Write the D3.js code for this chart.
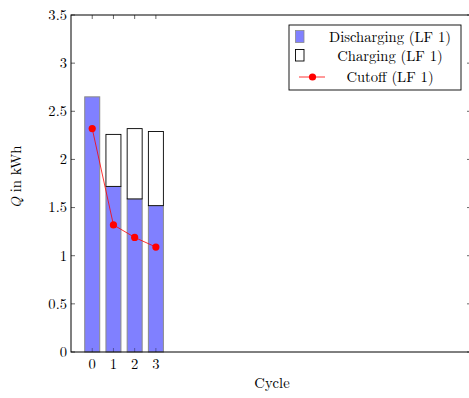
<!DOCTYPE html>
<html>
<head>
<meta charset="utf-8">
<script src="https://cdn.jsdelivr.net/npm/d3@7/dist/d3.min.js"></script>
<style>
  html, body { margin: 0; padding: 0; background: #fff; }
  svg { display: block; }
</style>
</head>
<body>
<svg id="chart" width="469" height="398" font-family="Latin Modern Roman, Liberation Serif, serif"></svg>
<script>
// Energy per cycle
const cycles = [0, 1, 2, 3];
const discharging = [2.65, 1.72, 1.59, 1.52];
const charging = [0.0, 0.54, 0.73, 0.77];
const cutoff = [2.32, 1.32, 1.19, 1.09];
const yTicks = [0, 0.5, 1, 1.5, 2, 2.5, 3, 3.5];
const legendLabels = ["Discharging (LF 1)", "Charging (LF 1)", "Cutoff (LF 1)"];

const svg = d3.select("#chart");
const plotL = 71, plotR = 471, plotT = 15, plotB = 352;
const fs = 14.6;

const x = d3.scaleLinear().domain([-1, 17.85]).range([plotL, plotR]);
const y = d3.scaleLinear().domain([0, 3.5]).range([plotB, plotT]);
const barW = 15;
const tickLen = 4;

// y ticks (left and right, inward)
svg.append("g").selectAll("line").data(yTicks).join("line")
  .attr("x1", plotL).attr("x2", plotL + tickLen)
  .attr("y1", d => y(d)).attr("y2", d => y(d))
  .attr("stroke", "#000").attr("stroke-width", 0.6);
svg.append("g").selectAll("line").data(yTicks).join("line")
  .attr("x1", plotR - tickLen).attr("x2", plotR)
  .attr("y1", d => y(d)).attr("y2", d => y(d))
  .attr("stroke", "#000").attr("stroke-width", 0.6);
// x ticks on top
svg.append("g").selectAll("line").data(cycles).join("line")
  .attr("x1", d => x(d)).attr("x2", d => x(d))
  .attr("y1", plotT).attr("y2", plotT + tickLen)
  .attr("stroke", "#000").attr("stroke-width", 0.6);

// stacked bars
const bars = svg.append("g");
bars.append("g").selectAll("rect").data(cycles).join("rect")
  .attr("x", d => x(d) - barW / 2).attr("width", barW)
  .attr("y", (d, i) => y(discharging[i]))
  .attr("height", (d, i) => y(0) - y(discharging[i]))
  .attr("fill", "#8080ff").attr("stroke", "#8a8a8a").attr("stroke-width", 1);
bars.append("g").selectAll("rect").data(cycles).join("rect")
  .attr("x", d => x(d) - barW / 2).attr("width", barW)
  .attr("y", (d, i) => y(discharging[i] + charging[i]))
  .attr("height", (d, i) => y(discharging[i]) - y(discharging[i] + charging[i]))
  .attr("fill", "#fff").attr("stroke", "#000").attr("stroke-width", 0.9);

// x ticks at bottom, drawn over bars
svg.append("g").selectAll("line").data(cycles).join("line")
  .attr("x1", d => x(d)).attr("x2", d => x(d))
  .attr("y1", plotB).attr("y2", plotB - tickLen)
  .attr("stroke", "#000").attr("stroke-opacity", 0.45).attr("stroke-width", 0.8);

// cutoff line
const line = d3.line().x((d, i) => x(cycles[i])).y(d => y(d));
svg.append("path").datum(cutoff).attr("d", line)
  .attr("fill", "none").attr("stroke", "#ff0000").attr("stroke-width", 0.8);
svg.append("g").selectAll("circle").data(cutoff).join("circle")
  .attr("cx", (d, i) => x(cycles[i])).attr("cy", d => y(d)).attr("r", 3.6)
  .attr("fill", "#ff0000");

// axis frame
svg.append("rect").attr("x", plotL).attr("y", plotT)
  .attr("width", plotR - plotL).attr("height", plotB - plotT)
  .attr("fill", "none").attr("stroke", "#000").attr("stroke-width", 1);

// tick labels
svg.append("g").selectAll("text").data(yTicks).join("text")
  .attr("x", plotL - 4).attr("y", d => y(d)).attr("dy", "0.33em")
  .attr("text-anchor", "end").attr("font-size", fs)
  .text(d => d);
svg.append("g").selectAll("text").data(cycles).join("text")
  .attr("x", d => x(d)).attr("y", plotB + 17)
  .attr("text-anchor", "middle").attr("font-size", fs)
  .text(d => d);

// axis labels
svg.append("text").attr("x", 272).attr("y", 388)
  .attr("text-anchor", "middle").attr("font-size", fs).text("Cycle");
const yl = svg.append("text")
  .attr("transform", "translate(21,177) rotate(-90)")
  .attr("text-anchor", "middle").attr("font-size", fs);
yl.append("tspan").attr("font-style", "italic").text("Q");
yl.append("tspan").text(" in kWh");

// legend
const lg = svg.append("g");
lg.append("rect").attr("x", 289).attr("y", 25).attr("width", 172).attr("height", 65)
  .attr("fill", "#fff").attr("stroke", "#000").attr("stroke-width", 0.9);
lg.append("rect").attr("x", 295.5).attr("y", 30.5).attr("width", 8.5).attr("height", 12)
  .attr("fill", "#8080ff").attr("stroke", "#8a8a8a").attr("stroke-width", 0.8);
lg.append("rect").attr("x", 295.5).attr("y", 49.5).attr("width", 8.5).attr("height", 11.5)
  .attr("fill", "#fff").attr("stroke", "#000").attr("stroke-width", 0.9);
lg.append("line").attr("x1", 299).attr("x2", 325).attr("y1", 77).attr("y2", 77)
  .attr("stroke", "#ff0000").attr("stroke-width", 0.8);
lg.append("circle").attr("cx", 312.5).attr("cy", 77).attr("r", 3.6).attr("fill", "#ff0000");
const ly = [42, 60.5, 82];
lg.selectAll("text").data(legendLabels).join("text")
  .attr("x", 390).attr("y", (d, i) => ly[i])
  .attr("text-anchor", "middle").attr("font-size", fs)
  .text(d => d);
</script>
</body>
</html>
